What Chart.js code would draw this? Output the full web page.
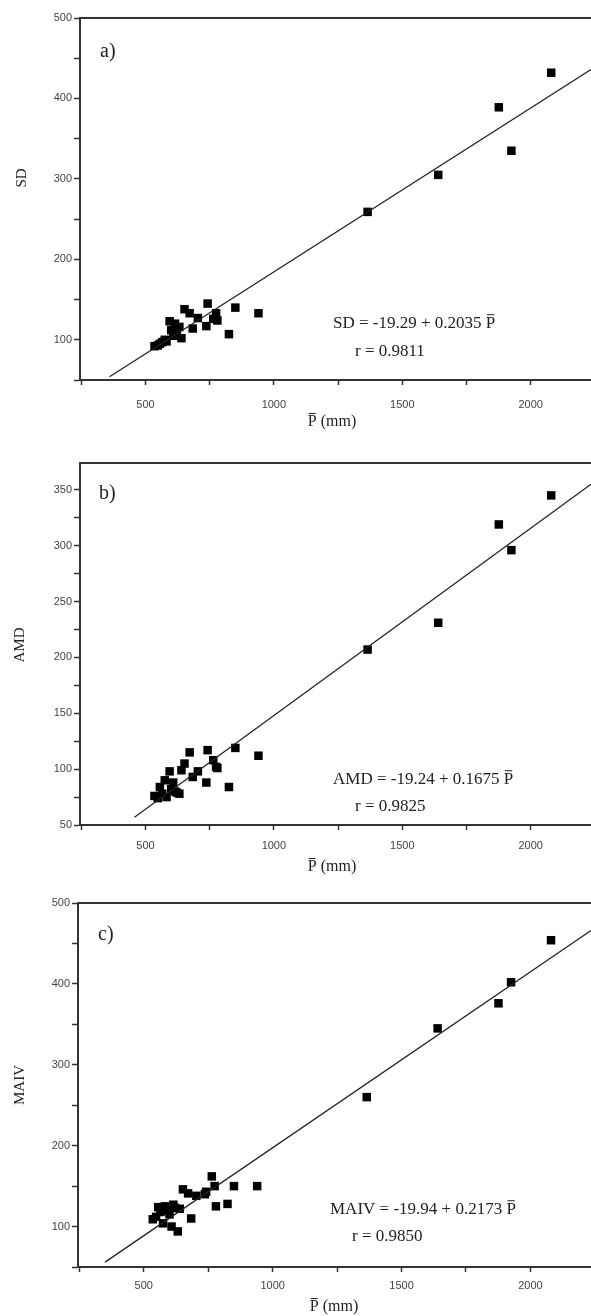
<!DOCTYPE html>
<html lang="en">
  <head>
    <meta charset="UTF-8" />
    <title>SD, AMD, MAIV vs mean precipitation</title>
    <script src="https://cdn.jsdelivr.net/npm/chart.js"></script>
    <style>
      body { margin: 0; background: #fff; }
      .panel { position: absolute; left: 0; }
    </style>
  </head>
  <body>
    <canvas id="chartA" class="panel" width="591" height="440" style="top:0px"></canvas>
    <canvas id="chartB" class="panel" width="591" height="440" style="top:440px"></canvas>
    <canvas id="chartC" class="panel" width="591" height="436" style="top:880px"></canvas>
    <script>
      // mean annual precipitation of each station (mm)
      const pMean = [535, 548, 556, 565, 575, 582, 594, 600, 608, 615, 622, 632, 640, 652, 672,
        684, 704, 737, 742, 764, 775, 780, 825, 850, 940, 1365, 1640, 1876, 1925, 2080];
      const sdValues = [92, 93, 95, 97, 100, 98, 123, 112, 105, 120, 108, 116, 102, 138, 133,
        114, 127, 117, 145, 126, 133, 124, 107, 140, 133, 259, 305, 389, 335, 432];
      const amdValues = [76, 74, 84, 78, 90, 75, 98, 82, 88, 80, 79, 78, 99, 105, 115,
        93, 98, 88, 117, 108, 102, 101, 84, 119, 112, 207, 231, 319, 296, 345];
      const maivValues = [109, 112, 124, 118, 104, 125, 120, 115, 100, 127, 123, 94, 122, 146, 141,
        110, 138, 140, 143, 162, 150, 125, 128, 150, 150, 260, 345, 376, 402, 454];

      // regression lines, read at their two ends
      const fitPA = [360, 2235];
      const fitSD = [54, 436];
      const fitPB = [457, 2235];
      const fitAMD = [57, 355];
      const fitPC = [350, 2235];
      const fitMAIV = [56, 466];

      // ticks
      const xTicks = [250, 500, 750, 1000, 1250, 1500, 1750, 2000];
      const xLabeled = [500, 1000, 1500, 2000];
      const yTicksA = [50, 100, 150, 200, 250, 300, 350, 400, 450, 500];
      const yLabeledA = [100, 200, 300, 400, 500];
      const yTicksB = [50, 75, 100, 125, 150, 175, 200, 225, 250, 275, 300, 325, 350];
      const yLabeledB = [50, 100, 150, 200, 250, 300, 350];
      const yTicksC = [50, 100, 150, 200, 250, 300, 350, 400, 450, 500];
      const yLabeledC = [100, 200, 300, 400, 500];

      const serif = '"Liberation Serif", "Times New Roman", serif';

      // draws "P" with a bar over it, returns its width
      const drawPbar = function (ctx, x, y, size) {
        ctx.fillText("P", x, y);
        const w = ctx.measureText("P").width;
        ctx.beginPath();
        ctx.lineWidth = 1;
        ctx.moveTo(x + 1, y - size * 0.78);
        ctx.lineTo(x + w - 1, y - size * 0.78);
        ctx.stroke();
        return w;
      };

      const notes = {
        id: "notes",
        afterDraw(chart, args, o) {
          const ctx = chart.ctx;
          const area = chart.chartArea;
          ctx.save();
          // top frame line
          ctx.strokeStyle = "#333";
          ctx.lineWidth = 2;
          ctx.beginPath();
          ctx.moveTo(area.left, area.top);
          ctx.lineTo(area.right, area.top);
          ctx.stroke();

          ctx.fillStyle = "#222";
          ctx.strokeStyle = "#222";
          ctx.textBaseline = "alphabetic";
          ctx.textAlign = "left";
          ctx.font = "20px " + serif;
          ctx.fillText(o.letter, o.letterPos[0], o.letterPos[1]);

          ctx.font = "17px " + serif;
          ctx.fillText(o.eq, o.eqPos[0], o.eqPos[1]);
          const w = ctx.measureText(o.eq).width;
          drawPbar(ctx, o.eqPos[0] + w, o.eqPos[1], 17);
          ctx.fillText(o.r, o.rPos[0], o.rPos[1]);

          // x title
          ctx.font = "16px " + serif;
          const rest = " (mm)";
          const total = ctx.measureText("P" + rest).width;
          const x0 = o.xTitlePos[0] - total / 2;
          const pw = drawPbar(ctx, x0, o.xTitlePos[1], 16);
          ctx.fillText(rest, x0 + pw, o.xTitlePos[1]);

          // y title
          ctx.translate(o.yTitlePos[0], o.yTitlePos[1]);
          ctx.rotate(-Math.PI / 2);
          ctx.textAlign = "center";
          ctx.textBaseline = "middle";
          ctx.font = "15px " + serif;
          ctx.fillText(o.yTitle, 0, 0);
          ctx.restore();
        },
      };

      const makePanel = function (id, p) {
        const points = pMean.map(function (v, i) {
          return { x: v, y: p.values[i] };
        });
        const fit = p.fitX.map(function (v, i) {
          return { x: v, y: p.fitY[i] };
        });
        return new Chart(document.getElementById(id), {
          type: "scatter",
          data: {
            datasets: [
              {
                data: fit,
                showLine: true,
                borderColor: "#222",
                borderWidth: 1.3,
                pointRadius: 0,
              },
              {
                data: points,
                pointStyle: "rect",
                pointRadius: 6,
                backgroundColor: "#000",
                borderColor: "#000",
                borderWidth: 0,
              },
            ],
          },
          options: {
            responsive: false,
            animation: false,
            events: [],
            layout: { autoPadding: false, padding: { top: p.top, left: 0, right: 0, bottom: 0 } },
            plugins: {
              legend: { display: false },
              tooltip: { enabled: false },
              notes: p.notes,
            },
            scales: {
              x: {
                type: "linear",
                min: 245,
                max: 2235,
                afterBuildTicks: function (scale) {
                  scale.ticks = xTicks.map(function (v) { return { value: v }; });
                },
                afterFit: function (scale) { scale.height = p.xHeight; },
                ticks: {
                  padding: p.xPad,
                  maxRotation: 0,
                  color: "#444",
                  font: { family: "Liberation Sans", size: 11 },
                  callback: function (v) { return xLabeled.includes(v) ? String(v) : ""; },
                },
                grid: {
                  drawOnChartArea: false,
                  tickLength: 5,
                  tickWidth: 1.5,
                  tickColor: "#333",
                },
                border: { color: "#333", width: 2 },
              },
              y: {
                type: "linear",
                min: p.yMin,
                max: p.yMax,
                afterBuildTicks: function (scale) {
                  scale.ticks = p.yTicks.map(function (v) { return { value: v }; });
                },
                afterFit: function (scale) { scale.width = p.yWidth; },
                ticks: {
                  padding: 2,
                  color: "#444",
                  font: { family: "Liberation Sans", size: 11 },
                  callback: function (v) { return p.yLabeled.includes(v) ? String(v) : ""; },
                },
                grid: {
                  drawOnChartArea: false,
                  tickLength: 6,
                  tickWidth: 1.5,
                  tickColor: "#333",
                },
                border: { color: "#333", width: 2 },
              },
            },
          },
          plugins: [notes],
        });
      };

      makePanel("chartA", {
        values: sdValues, fitX: fitPA, fitY: fitSD,
        yMin: 50, yMax: 500, yTicks: yTicksA, yLabeled: yLabeledA,
        top: 18, xHeight: 60, xPad: 13, yWidth: 80,
        notes: {
          letter: "a)", letterPos: [100, 57],
          eq: "SD = -19.29 + 0.2035 ", eqPos: [333, 328],
          r: "r = 0.9811", rPos: [355, 356],
          xTitlePos: [332, 426], yTitle: "SD", yTitlePos: [22, 178],
        },
      });

      makePanel("chartB", {
        values: amdValues, fitX: fitPB, fitY: fitAMD,
        yMin: 50, yMax: 374, yTicks: yTicksB, yLabeled: yLabeledB,
        top: 23, xHeight: 55, xPad: 9, yWidth: 80,
        notes: {
          letter: "b)", letterPos: [99, 59],
          eq: "AMD = -19.24 + 0.1675 ", eqPos: [333, 344],
          r: "r = 0.9825", rPos: [355, 371],
          xTitlePos: [332, 431], yTitle: "AMD", yTitlePos: [20, 205],
        },
      });

      makePanel("chartC", {
        values: maivValues, fitX: fitPC, fitY: fitMAIV,
        yMin: 50, yMax: 500, yTicks: yTicksC, yLabeled: yLabeledC,
        top: 23, xHeight: 49, xPad: 7, yWidth: 78,
        notes: {
          letter: "c)", letterPos: [98, 60],
          eq: "MAIV = -19.94 + 0.2173 ", eqPos: [330, 334],
          r: "r = 0.9850", rPos: [352, 361],
          xTitlePos: [334, 431], yTitle: "MAIV", yTitlePos: [20, 205],
        },
      });
    </script>
  </body>
</html>
